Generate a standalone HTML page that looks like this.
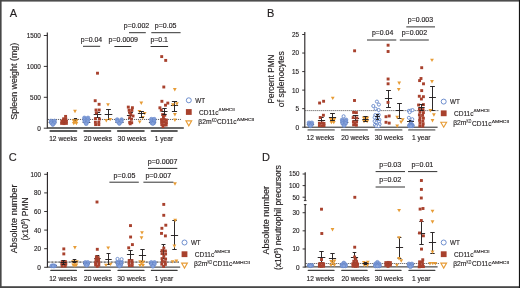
<!DOCTYPE html>
<html><head><meta charset="utf-8"><style>
html,body{margin:0;padding:0;background:#fff;width:520px;height:288px;overflow:hidden}
svg{display:block;font-family:"Liberation Sans", sans-serif;will-change:transform}
</style></head><body>
<svg width="520" height="288" viewBox="0 0 520 288">
<rect width="520" height="288" fill="#fff"/>
<rect x="0" y="0" width="520" height="1.6" fill="#4d4d4d"/>
<rect x="0" y="0" width="1.6" height="288" fill="#474747"/>
<rect x="0" y="286.2" width="520" height="1.8" fill="#474747"/>
<rect x="518.9" y="0" width="1.1" height="288" fill="#151515"/>
<text x="13.40" y="16.90" font-size="11" text-anchor="middle" fill="#231f20" stroke="#231f20" stroke-width="0.15">A</text>
<text x="270.70" y="16.90" font-size="11" text-anchor="middle" fill="#231f20" stroke="#231f20" stroke-width="0.15">B</text>
<text x="12.80" y="160.60" font-size="11" text-anchor="middle" fill="#231f20" stroke="#231f20" stroke-width="0.15">C</text>
<text x="266.00" y="160.50" font-size="11" text-anchor="middle" fill="#231f20" stroke="#231f20" stroke-width="0.15">D</text>
<line x1="47.30" y1="32.60" x2="47.30" y2="128.50" stroke="#231f20" stroke-width="1.1"/>
<line x1="47.30" y1="128.00" x2="183.80" y2="128.00" stroke="#3a3a3a" stroke-width="1.7"/>
<line x1="43.80" y1="128.20" x2="47.30" y2="128.20" stroke="#231f20" stroke-width="0.9"/>
<text x="40.90" y="130.60" font-size="6.8" text-anchor="end" fill="#231f20" stroke="#231f20" stroke-width="0.15" textLength="3.60" lengthAdjust="spacingAndGlyphs">0</text>
<line x1="43.80" y1="97.30" x2="47.30" y2="97.30" stroke="#231f20" stroke-width="0.9"/>
<text x="40.90" y="99.70" font-size="6.8" text-anchor="end" fill="#231f20" stroke="#231f20" stroke-width="0.15" textLength="10.80" lengthAdjust="spacingAndGlyphs">500</text>
<line x1="43.80" y1="66.40" x2="47.30" y2="66.40" stroke="#231f20" stroke-width="0.9"/>
<text x="40.90" y="68.80" font-size="6.8" text-anchor="end" fill="#231f20" stroke="#231f20" stroke-width="0.15" textLength="14.20" lengthAdjust="spacingAndGlyphs">1000</text>
<line x1="43.80" y1="35.50" x2="47.30" y2="35.50" stroke="#231f20" stroke-width="0.9"/>
<text x="40.90" y="37.90" font-size="6.8" text-anchor="end" fill="#231f20" stroke="#231f20" stroke-width="0.15" textLength="14.20" lengthAdjust="spacingAndGlyphs">1500</text>
<line x1="50.40" y1="131.00" x2="76.40" y2="131.00" stroke="#5a5a5a" stroke-width="2.0" stroke-linecap="round"/>
<line x1="84.30" y1="131.00" x2="110.30" y2="131.00" stroke="#5a5a5a" stroke-width="2.0" stroke-linecap="round"/>
<line x1="117.90" y1="131.00" x2="143.80" y2="131.00" stroke="#5a5a5a" stroke-width="2.0" stroke-linecap="round"/>
<line x1="151.60" y1="131.00" x2="176.90" y2="131.00" stroke="#5a5a5a" stroke-width="2.0" stroke-linecap="round"/>
<text x="63.20" y="140.50" font-size="6.9" text-anchor="middle" fill="#231f20" stroke="#231f20" stroke-width="0.15" textLength="28.00" lengthAdjust="spacingAndGlyphs">12 weeks</text>
<text x="98.00" y="140.50" font-size="6.9" text-anchor="middle" fill="#231f20" stroke="#231f20" stroke-width="0.15" textLength="28.00" lengthAdjust="spacingAndGlyphs">20 weeks</text>
<text x="132.00" y="140.50" font-size="6.9" text-anchor="middle" fill="#231f20" stroke="#231f20" stroke-width="0.15" textLength="28.80" lengthAdjust="spacingAndGlyphs">30 weeks</text>
<text x="163.90" y="140.50" font-size="6.9" text-anchor="middle" fill="#231f20" stroke="#231f20" stroke-width="0.15" textLength="18.40" lengthAdjust="spacingAndGlyphs">1 year</text>
<text x="16.70" y="81.20" font-size="8.6" text-anchor="middle" fill="#231f20" stroke="#231f20" stroke-width="0.15" textLength="77.00" lengthAdjust="spacingAndGlyphs" transform="rotate(-90 16.70 81.20)">Spleen weight (mg)</text>
<line x1="47.90" y1="119.45" x2="181.50" y2="119.45" stroke="#231f20" stroke-width="0.9" stroke-dasharray="0.9 1.1"/>
<line x1="52.50" y1="122.50" x2="52.50" y2="123.50" stroke="#231f20" stroke-width="0.95"/>
<line x1="51.00" y1="122.50" x2="54.00" y2="122.50" stroke="#231f20" stroke-width="0.95"/>
<line x1="51.00" y1="123.50" x2="54.00" y2="123.50" stroke="#231f20" stroke-width="0.95"/>
<line x1="48.70" y1="122.50" x2="56.30" y2="122.50" stroke="#231f20" stroke-width="0.95"/>
<line x1="64.50" y1="119.50" x2="64.50" y2="122.50" stroke="#231f20" stroke-width="0.95"/>
<line x1="62.50" y1="119.50" x2="66.50" y2="119.50" stroke="#231f20" stroke-width="0.95"/>
<line x1="62.50" y1="122.50" x2="66.50" y2="122.50" stroke="#231f20" stroke-width="0.95"/>
<line x1="61.50" y1="120.50" x2="67.50" y2="120.50" stroke="#231f20" stroke-width="0.95"/>
<line x1="75.50" y1="118.50" x2="75.50" y2="120.50" stroke="#231f20" stroke-width="0.95"/>
<line x1="73.90" y1="118.50" x2="77.10" y2="118.50" stroke="#231f20" stroke-width="0.95"/>
<line x1="73.90" y1="120.50" x2="77.10" y2="120.50" stroke="#231f20" stroke-width="0.95"/>
<line x1="73.10" y1="119.50" x2="77.90" y2="119.50" stroke="#231f20" stroke-width="0.95"/>
<circle cx="51.05" cy="121.00" r="1.9" fill="#86a2da" stroke="#5f82c8" stroke-width="0.6"/>
<circle cx="54.55" cy="121.00" r="1.9" fill="#86a2da" stroke="#5f82c8" stroke-width="0.6"/>
<circle cx="51.32" cy="122.80" r="1.9" fill="#86a2da" stroke="#5f82c8" stroke-width="0.6"/>
<circle cx="54.28" cy="122.80" r="1.9" fill="#86a2da" stroke="#5f82c8" stroke-width="0.6"/>
<circle cx="52.80" cy="124.50" r="1.9" fill="#86a2da" stroke="#5f82c8" stroke-width="0.6"/>
<rect x="64.15" y="114.95" width="2.9" height="2.9" fill="#a8412d"/>
<rect x="62.15" y="117.35" width="2.9" height="2.9" fill="#a8412d"/>
<rect x="64.35" y="117.55" width="2.9" height="2.9" fill="#a8412d"/>
<rect x="60.35" y="119.55" width="2.9" height="2.9" fill="#a8412d"/>
<rect x="62.95" y="119.55" width="2.9" height="2.9" fill="#a8412d"/>
<rect x="64.95" y="119.75" width="2.9" height="2.9" fill="#a8412d"/>
<rect x="60.15" y="121.95" width="2.9" height="2.9" fill="#a8412d"/>
<rect x="62.55" y="122.15" width="2.9" height="2.9" fill="#a8412d"/>
<rect x="64.95" y="121.95" width="2.9" height="2.9" fill="#a8412d"/>
<path d="M73.10 109.80H76.90L75.00 113.20Z" fill="#e79c36"/>
<path d="M71.70 119.30H75.50L73.60 122.70Z" fill="#e79c36"/>
<path d="M74.70 119.30H78.50L76.60 122.70Z" fill="#e79c36"/>
<path d="M73.10 120.90H76.90L75.00 124.30Z" fill="#e79c36"/>
<path d="M71.90 121.90H75.70L73.80 125.30Z" fill="#e79c36"/>
<path d="M74.50 121.90H78.30L76.40 125.30Z" fill="#e79c36"/>
<line x1="86.50" y1="121.50" x2="86.50" y2="123.50" stroke="#231f20" stroke-width="0.95"/>
<line x1="85.00" y1="121.50" x2="88.00" y2="121.50" stroke="#231f20" stroke-width="0.95"/>
<line x1="85.00" y1="123.50" x2="88.00" y2="123.50" stroke="#231f20" stroke-width="0.95"/>
<line x1="82.70" y1="122.50" x2="90.30" y2="122.50" stroke="#231f20" stroke-width="0.95"/>
<line x1="97.50" y1="112.50" x2="97.50" y2="117.50" stroke="#231f20" stroke-width="0.95"/>
<line x1="94.90" y1="112.50" x2="100.10" y2="112.50" stroke="#231f20" stroke-width="0.95"/>
<line x1="94.90" y1="117.50" x2="100.10" y2="117.50" stroke="#231f20" stroke-width="0.95"/>
<line x1="93.70" y1="114.50" x2="101.30" y2="114.50" stroke="#231f20" stroke-width="0.95"/>
<line x1="108.50" y1="109.50" x2="108.50" y2="119.50" stroke="#231f20" stroke-width="0.95"/>
<line x1="106.10" y1="109.50" x2="110.90" y2="109.50" stroke="#231f20" stroke-width="0.95"/>
<line x1="106.10" y1="119.50" x2="110.90" y2="119.50" stroke="#231f20" stroke-width="0.95"/>
<line x1="104.70" y1="114.50" x2="112.30" y2="114.50" stroke="#231f20" stroke-width="0.95"/>
<circle cx="84.40" cy="117.90" r="1.9" fill="#86a2da" stroke="#5f82c8" stroke-width="0.6"/>
<circle cx="88.00" cy="117.90" r="1.9" fill="#86a2da" stroke="#5f82c8" stroke-width="0.6"/>
<circle cx="84.61" cy="119.70" r="1.9" fill="#86a2da" stroke="#5f82c8" stroke-width="0.6"/>
<circle cx="87.79" cy="119.70" r="1.9" fill="#86a2da" stroke="#5f82c8" stroke-width="0.6"/>
<circle cx="84.82" cy="121.50" r="1.9" fill="#86a2da" stroke="#5f82c8" stroke-width="0.6"/>
<circle cx="87.58" cy="121.50" r="1.9" fill="#86a2da" stroke="#5f82c8" stroke-width="0.6"/>
<circle cx="86.20" cy="123.70" r="1.9" fill="#86a2da" stroke="#5f82c8" stroke-width="0.6"/>
<rect x="96.05" y="71.75" width="2.9" height="2.9" fill="#a8412d"/>
<rect x="93.75" y="99.25" width="2.9" height="2.9" fill="#a8412d"/>
<rect x="97.65" y="102.85" width="2.9" height="2.9" fill="#a8412d"/>
<rect x="94.55" y="108.55" width="2.9" height="2.9" fill="#a8412d"/>
<rect x="97.75" y="108.55" width="2.9" height="2.9" fill="#a8412d"/>
<rect x="94.95" y="111.35" width="2.9" height="2.9" fill="#a8412d"/>
<rect x="93.95" y="117.15" width="2.9" height="2.9" fill="#a8412d"/>
<rect x="97.95" y="117.55" width="2.9" height="2.9" fill="#a8412d"/>
<rect x="93.95" y="120.75" width="2.9" height="2.9" fill="#a8412d"/>
<rect x="97.35" y="120.75" width="2.9" height="2.9" fill="#a8412d"/>
<rect x="94.15" y="123.15" width="2.9" height="2.9" fill="#a8412d"/>
<rect x="97.35" y="123.15" width="2.9" height="2.9" fill="#a8412d"/>
<path d="M106.10 103.20H109.90L108.00 106.60Z" fill="#e79c36"/>
<path d="M104.40 119.00H108.20L106.30 122.40Z" fill="#e79c36"/>
<path d="M108.30 117.90H112.10L110.20 121.30Z" fill="#e79c36"/>
<line x1="119.50" y1="121.50" x2="119.50" y2="123.50" stroke="#231f20" stroke-width="0.95"/>
<line x1="118.00" y1="121.50" x2="121.00" y2="121.50" stroke="#231f20" stroke-width="0.95"/>
<line x1="118.00" y1="123.50" x2="121.00" y2="123.50" stroke="#231f20" stroke-width="0.95"/>
<line x1="115.50" y1="122.50" x2="123.50" y2="122.50" stroke="#231f20" stroke-width="0.95"/>
<line x1="130.50" y1="112.50" x2="130.50" y2="118.50" stroke="#231f20" stroke-width="0.95"/>
<line x1="128.10" y1="112.50" x2="132.90" y2="112.50" stroke="#231f20" stroke-width="0.95"/>
<line x1="128.10" y1="118.50" x2="132.90" y2="118.50" stroke="#231f20" stroke-width="0.95"/>
<line x1="126.90" y1="115.50" x2="134.10" y2="115.50" stroke="#231f20" stroke-width="0.95"/>
<circle cx="117.20" cy="119.60" r="1.9" fill="#86a2da" stroke="#5f82c8" stroke-width="0.6"/>
<circle cx="121.60" cy="119.60" r="1.9" fill="#86a2da" stroke="#5f82c8" stroke-width="0.6"/>
<circle cx="117.52" cy="121.40" r="1.9" fill="#86a2da" stroke="#5f82c8" stroke-width="0.6"/>
<circle cx="121.28" cy="121.40" r="1.9" fill="#86a2da" stroke="#5f82c8" stroke-width="0.6"/>
<circle cx="119.40" cy="123.50" r="1.9" fill="#86a2da" stroke="#5f82c8" stroke-width="0.6"/>
<rect x="126.85" y="105.65" width="2.9" height="2.9" fill="#a8412d"/>
<rect x="130.95" y="106.25" width="2.9" height="2.9" fill="#a8412d"/>
<rect x="127.65" y="108.75" width="2.9" height="2.9" fill="#a8412d"/>
<rect x="130.45" y="108.95" width="2.9" height="2.9" fill="#a8412d"/>
<rect x="128.25" y="111.25" width="2.9" height="2.9" fill="#a8412d"/>
<rect x="129.35" y="112.85" width="2.9" height="2.9" fill="#a8412d"/>
<rect x="131.55" y="114.55" width="2.9" height="2.9" fill="#a8412d"/>
<rect x="128.25" y="116.25" width="2.9" height="2.9" fill="#a8412d"/>
<rect x="129.85" y="117.85" width="2.9" height="2.9" fill="#a8412d"/>
<rect x="128.25" y="120.95" width="2.9" height="2.9" fill="#a8412d"/>
<rect x="130.25" y="121.25" width="2.9" height="2.9" fill="#a8412d"/>
<rect x="128.75" y="122.35" width="2.9" height="2.9" fill="#a8412d"/>
<path d="M139.40 101.50H143.20L141.30 104.90Z" fill="#e79c36"/>
<path d="M137.50 109.90H141.30L139.40 113.30Z" fill="#e79c36"/>
<path d="M142.80 111.90H146.60L144.70 115.30Z" fill="#e79c36"/>
<path d="M140.90 116.00H144.70L142.80 119.40Z" fill="#e79c36"/>
<path d="M137.80 120.40H141.60L139.70 123.80Z" fill="#e79c36"/>
<line x1="141.50" y1="111.50" x2="141.50" y2="117.50" stroke="#231f20" stroke-width="0.95"/>
<line x1="139.10" y1="111.50" x2="143.90" y2="111.50" stroke="#231f20" stroke-width="0.95"/>
<line x1="139.10" y1="117.50" x2="143.90" y2="117.50" stroke="#231f20" stroke-width="0.95"/>
<line x1="137.90" y1="113.50" x2="145.10" y2="113.50" stroke="#231f20" stroke-width="0.95"/>
<line x1="152.50" y1="121.50" x2="152.50" y2="123.50" stroke="#231f20" stroke-width="0.95"/>
<line x1="151.00" y1="121.50" x2="154.00" y2="121.50" stroke="#231f20" stroke-width="0.95"/>
<line x1="151.00" y1="123.50" x2="154.00" y2="123.50" stroke="#231f20" stroke-width="0.95"/>
<line x1="148.90" y1="122.50" x2="156.10" y2="122.50" stroke="#231f20" stroke-width="0.95"/>
<line x1="174.50" y1="101.50" x2="174.50" y2="111.50" stroke="#231f20" stroke-width="0.95"/>
<line x1="171.90" y1="101.50" x2="177.10" y2="101.50" stroke="#231f20" stroke-width="0.95"/>
<line x1="171.90" y1="111.50" x2="177.10" y2="111.50" stroke="#231f20" stroke-width="0.95"/>
<line x1="170.90" y1="105.50" x2="178.10" y2="105.50" stroke="#231f20" stroke-width="0.95"/>
<circle cx="151.40" cy="119.20" r="1.9" fill="#86a2da" stroke="#5f82c8" stroke-width="0.6"/>
<circle cx="154.20" cy="119.20" r="1.9" fill="#86a2da" stroke="#5f82c8" stroke-width="0.6"/>
<circle cx="151.59" cy="121.00" r="1.9" fill="#86a2da" stroke="#5f82c8" stroke-width="0.6"/>
<circle cx="154.01" cy="121.00" r="1.9" fill="#86a2da" stroke="#5f82c8" stroke-width="0.6"/>
<circle cx="151.78" cy="122.80" r="1.9" fill="#86a2da" stroke="#5f82c8" stroke-width="0.6"/>
<circle cx="153.82" cy="122.80" r="1.9" fill="#86a2da" stroke="#5f82c8" stroke-width="0.6"/>
<circle cx="152.80" cy="123.60" r="1.9" fill="#86a2da" stroke="#5f82c8" stroke-width="0.6"/>
<rect x="160.25" y="55.15" width="2.9" height="2.9" fill="#a8412d"/>
<rect x="164.25" y="58.95" width="2.9" height="2.9" fill="#a8412d"/>
<rect x="162.35" y="85.55" width="2.9" height="2.9" fill="#a8412d"/>
<rect x="160.45" y="99.85" width="2.9" height="2.9" fill="#a8412d"/>
<rect x="166.35" y="101.65" width="2.9" height="2.9" fill="#a8412d"/>
<rect x="164.05" y="103.75" width="2.9" height="2.9" fill="#a8412d"/>
<rect x="158.45" y="106.35" width="2.9" height="2.9" fill="#a8412d"/>
<rect x="159.85" y="108.75" width="2.9" height="2.9" fill="#a8412d"/>
<rect x="161.15" y="113.15" width="2.9" height="2.9" fill="#a8412d"/>
<rect x="163.35" y="113.75" width="2.9" height="2.9" fill="#a8412d"/>
<rect x="161.95" y="115.75" width="2.9" height="2.9" fill="#a8412d"/>
<rect x="160.15" y="118.15" width="2.9" height="2.9" fill="#a8412d"/>
<rect x="162.75" y="117.95" width="2.9" height="2.9" fill="#a8412d"/>
<rect x="164.95" y="118.55" width="2.9" height="2.9" fill="#a8412d"/>
<rect x="160.15" y="120.75" width="2.9" height="2.9" fill="#a8412d"/>
<rect x="162.55" y="120.55" width="2.9" height="2.9" fill="#a8412d"/>
<rect x="164.95" y="121.15" width="2.9" height="2.9" fill="#a8412d"/>
<rect x="160.35" y="123.15" width="2.9" height="2.9" fill="#a8412d"/>
<rect x="162.95" y="123.35" width="2.9" height="2.9" fill="#a8412d"/>
<rect x="164.75" y="123.55" width="2.9" height="2.9" fill="#a8412d"/>
<rect x="161.55" y="125.15" width="2.9" height="2.9" fill="#a8412d"/>
<line x1="164.50" y1="108.50" x2="164.50" y2="114.50" stroke="#231f20" stroke-width="0.95"/>
<line x1="162.30" y1="108.50" x2="166.70" y2="108.50" stroke="#231f20" stroke-width="0.95"/>
<line x1="162.30" y1="114.50" x2="166.70" y2="114.50" stroke="#231f20" stroke-width="0.95"/>
<line x1="161.50" y1="111.50" x2="167.50" y2="111.50" stroke="#231f20" stroke-width="0.95"/>
<path d="M172.90 88.00H176.70L174.80 91.40Z" fill="#e79c36"/>
<path d="M171.00 103.20H174.80L172.90 106.60Z" fill="#e79c36"/>
<path d="M175.00 102.30H178.80L176.90 105.70Z" fill="#e79c36"/>
<path d="M173.00 113.00H176.80L174.90 116.40Z" fill="#e79c36"/>
<path d="M173.00 118.50H176.80L174.90 121.90Z" fill="#e79c36"/>
<circle cx="188.80" cy="100.30" r="2.5" fill="white" stroke="#5f82c8" stroke-width="0.9"/>
<text x="195.20" y="102.70" font-size="7.2" text-anchor="start" fill="#231f20" stroke="#231f20" stroke-width="0.15" textLength="9.80" lengthAdjust="spacingAndGlyphs">WT</text>
<rect x="185.90" y="109.10" width="5.8" height="5.8" fill="#a8412d"/>
<text x="199.00" y="114.50" font-size="7.2" text-anchor="start" fill="#231f20" stroke="#231f20" stroke-width="0.15" textLength="19.60" lengthAdjust="spacingAndGlyphs">CD11c</text>
<text x="218.60" y="111.10" font-size="4.3" text-anchor="start" fill="#231f20" stroke="#231f20" textLength="16.10" lengthAdjust="spacingAndGlyphs" stroke-width="0.12">&#916;MHCII</text>
<path d="M185.90 120.90H191.70L188.80 125.90Z" fill="none" stroke="#e79c36" stroke-width="1.1" stroke-linejoin="miter"/>
<text x="198.30" y="123.80" font-size="7.2" text-anchor="start" fill="#231f20" stroke="#231f20" stroke-width="0.15" textLength="13.30" lengthAdjust="spacingAndGlyphs">&#946;2m</text>
<text x="211.70" y="121.50" font-size="4.6" text-anchor="start" fill="#231f20" stroke="#231f20" textLength="4.80" lengthAdjust="spacingAndGlyphs" stroke-width="0.12">KO</text>
<text x="217.00" y="124.20" font-size="7.2" text-anchor="start" fill="#231f20" stroke="#231f20" stroke-width="0.15" textLength="19.60" lengthAdjust="spacingAndGlyphs">CD11c</text>
<text x="236.80" y="121.30" font-size="4.3" text-anchor="start" fill="#231f20" stroke="#231f20" textLength="17.60" lengthAdjust="spacingAndGlyphs" stroke-width="0.12">&#916;MHCII</text>
<line x1="83.00" y1="46.30" x2="100.20" y2="46.30" stroke="#333" stroke-width="1.0"/>
<text x="91.50" y="41.70" font-size="6.7" text-anchor="middle" fill="#231f20" stroke="#231f20" stroke-width="0.15" textLength="21.40" lengthAdjust="spacingAndGlyphs">p=0.04</text>
<line x1="114.40" y1="46.50" x2="131.30" y2="46.50" stroke="#333" stroke-width="1.0"/>
<text x="123.30" y="41.90" font-size="6.7" text-anchor="middle" fill="#231f20" stroke="#231f20" stroke-width="0.15" textLength="29.40" lengthAdjust="spacingAndGlyphs">p=0.0009</text>
<line x1="129.00" y1="32.70" x2="145.80" y2="32.70" stroke="#333" stroke-width="1.0"/>
<text x="136.50" y="28.10" font-size="6.7" text-anchor="middle" fill="#231f20" stroke="#231f20" stroke-width="0.15" textLength="25.40" lengthAdjust="spacingAndGlyphs">p=0.002</text>
<line x1="151.30" y1="32.70" x2="180.60" y2="32.70" stroke="#333" stroke-width="1.0"/>
<text x="165.65" y="28.10" font-size="6.7" text-anchor="middle" fill="#231f20" stroke="#231f20" stroke-width="0.15" textLength="21.70" lengthAdjust="spacingAndGlyphs">p=0.05</text>
<line x1="150.60" y1="46.50" x2="168.10" y2="46.50" stroke="#333" stroke-width="1.0"/>
<text x="159.20" y="41.90" font-size="6.7" text-anchor="middle" fill="#231f20" stroke="#231f20" stroke-width="0.15" textLength="17.60" lengthAdjust="spacingAndGlyphs">p=0.1</text>
<line x1="304.80" y1="32.00" x2="304.80" y2="127.70" stroke="#231f20" stroke-width="1.1"/>
<line x1="304.80" y1="127.20" x2="437.60" y2="127.20" stroke="#222" stroke-width="1.0"/>
<line x1="302.20" y1="127.20" x2="304.80" y2="127.20" stroke="#231f20" stroke-width="0.9"/>
<text x="299.00" y="129.60" font-size="6.8" text-anchor="end" fill="#231f20" stroke="#231f20" stroke-width="0.15" textLength="3.60" lengthAdjust="spacingAndGlyphs">0</text>
<line x1="302.20" y1="108.66" x2="304.80" y2="108.66" stroke="#231f20" stroke-width="0.9"/>
<text x="299.00" y="111.06" font-size="6.8" text-anchor="end" fill="#231f20" stroke="#231f20" stroke-width="0.15" textLength="3.60" lengthAdjust="spacingAndGlyphs">5</text>
<line x1="302.20" y1="90.12" x2="304.80" y2="90.12" stroke="#231f20" stroke-width="0.9"/>
<text x="299.00" y="92.52" font-size="6.8" text-anchor="end" fill="#231f20" stroke="#231f20" stroke-width="0.15" textLength="7.00" lengthAdjust="spacingAndGlyphs">10</text>
<line x1="302.20" y1="71.58" x2="304.80" y2="71.58" stroke="#231f20" stroke-width="0.9"/>
<text x="299.00" y="73.98" font-size="6.8" text-anchor="end" fill="#231f20" stroke="#231f20" stroke-width="0.15" textLength="7.00" lengthAdjust="spacingAndGlyphs">15</text>
<line x1="302.20" y1="53.04" x2="304.80" y2="53.04" stroke="#231f20" stroke-width="0.9"/>
<text x="299.00" y="55.44" font-size="6.8" text-anchor="end" fill="#231f20" stroke="#231f20" stroke-width="0.15" textLength="7.00" lengthAdjust="spacingAndGlyphs">20</text>
<line x1="302.20" y1="34.50" x2="304.80" y2="34.50" stroke="#231f20" stroke-width="0.9"/>
<text x="299.00" y="36.90" font-size="6.8" text-anchor="end" fill="#231f20" stroke="#231f20" stroke-width="0.15" textLength="7.00" lengthAdjust="spacingAndGlyphs">25</text>
<line x1="308.30" y1="129.90" x2="334.00" y2="129.90" stroke="#8a8a8a" stroke-width="1.8" stroke-linecap="round"/>
<line x1="341.80" y1="129.90" x2="367.10" y2="129.90" stroke="#8a8a8a" stroke-width="1.8" stroke-linecap="round"/>
<line x1="375.50" y1="129.90" x2="401.60" y2="129.90" stroke="#8a8a8a" stroke-width="1.8" stroke-linecap="round"/>
<line x1="408.90" y1="129.90" x2="434.60" y2="129.90" stroke="#8a8a8a" stroke-width="1.8" stroke-linecap="round"/>
<text x="320.50" y="139.70" font-size="6.9" text-anchor="middle" fill="#231f20" stroke="#231f20" stroke-width="0.15" textLength="27.80" lengthAdjust="spacingAndGlyphs">12 weeks</text>
<text x="355.30" y="139.70" font-size="6.9" text-anchor="middle" fill="#231f20" stroke="#231f20" stroke-width="0.15" textLength="28.20" lengthAdjust="spacingAndGlyphs">20 weeks</text>
<text x="389.00" y="139.70" font-size="6.9" text-anchor="middle" fill="#231f20" stroke="#231f20" stroke-width="0.15" textLength="28.60" lengthAdjust="spacingAndGlyphs">30 weeks</text>
<text x="421.20" y="139.70" font-size="6.9" text-anchor="middle" fill="#231f20" stroke="#231f20" stroke-width="0.15" textLength="18.60" lengthAdjust="spacingAndGlyphs">1 year</text>
<text x="273.80" y="79.00" font-size="8.2" text-anchor="middle" fill="#231f20" stroke="#231f20" stroke-width="0.15" textLength="48.80" lengthAdjust="spacingAndGlyphs" transform="rotate(-90 273.80 79.00)">Percent PMN</text>
<text x="284.40" y="79.20" font-size="8.2" text-anchor="middle" fill="#231f20" stroke="#231f20" stroke-width="0.15" textLength="56.00" lengthAdjust="spacingAndGlyphs" transform="rotate(-90 284.40 79.20)">of splenocytes</text>
<line x1="305.40" y1="110.60" x2="439.00" y2="110.60" stroke="#231f20" stroke-width="0.9" stroke-dasharray="0.9 1.1"/>
<line x1="310.50" y1="123.50" x2="310.50" y2="125.50" stroke="#231f20" stroke-width="0.95"/>
<line x1="309.00" y1="123.50" x2="312.00" y2="123.50" stroke="#231f20" stroke-width="0.95"/>
<line x1="309.00" y1="125.50" x2="312.00" y2="125.50" stroke="#231f20" stroke-width="0.95"/>
<line x1="306.90" y1="124.50" x2="314.10" y2="124.50" stroke="#231f20" stroke-width="0.95"/>
<line x1="321.50" y1="117.50" x2="321.50" y2="123.50" stroke="#231f20" stroke-width="0.95"/>
<line x1="319.30" y1="117.50" x2="323.70" y2="117.50" stroke="#231f20" stroke-width="0.95"/>
<line x1="319.30" y1="123.50" x2="323.70" y2="123.50" stroke="#231f20" stroke-width="0.95"/>
<line x1="317.90" y1="120.50" x2="325.10" y2="120.50" stroke="#231f20" stroke-width="0.95"/>
<circle cx="309.00" cy="122.80" r="1.9" fill="#86a2da" stroke="#5f82c8" stroke-width="0.6"/>
<circle cx="311.80" cy="122.80" r="1.9" fill="#86a2da" stroke="#5f82c8" stroke-width="0.6"/>
<circle cx="309.23" cy="124.60" r="1.9" fill="#86a2da" stroke="#5f82c8" stroke-width="0.6"/>
<circle cx="311.57" cy="124.60" r="1.9" fill="#86a2da" stroke="#5f82c8" stroke-width="0.6"/>
<circle cx="310.40" cy="125.85" r="1.9" fill="#86a2da" stroke="#5f82c8" stroke-width="0.6"/>
<rect x="318.15" y="101.55" width="2.9" height="2.9" fill="#a8412d"/>
<rect x="322.15" y="99.80" width="2.9" height="2.9" fill="#a8412d"/>
<rect x="321.95" y="113.80" width="2.9" height="2.9" fill="#a8412d"/>
<rect x="318.80" y="116.05" width="2.9" height="2.9" fill="#a8412d"/>
<rect x="317.95" y="121.75" width="2.9" height="2.9" fill="#a8412d"/>
<rect x="320.75" y="121.55" width="2.9" height="2.9" fill="#a8412d"/>
<rect x="322.55" y="121.95" width="2.9" height="2.9" fill="#a8412d"/>
<rect x="317.95" y="124.15" width="2.9" height="2.9" fill="#a8412d"/>
<rect x="320.55" y="124.35" width="2.9" height="2.9" fill="#a8412d"/>
<rect x="322.55" y="124.15" width="2.9" height="2.9" fill="#a8412d"/>
<path d="M330.85 96.70H334.65L332.75 100.10Z" fill="#e79c36"/>
<path d="M328.90 117.70H332.70L330.80 121.10Z" fill="#e79c36"/>
<path d="M332.50 117.70H336.30L334.40 121.10Z" fill="#e79c36"/>
<path d="M330.70 119.30H334.50L332.60 122.70Z" fill="#e79c36"/>
<path d="M329.50 120.90H333.30L331.40 124.30Z" fill="#e79c36"/>
<path d="M331.90 120.90H335.70L333.80 124.30Z" fill="#e79c36"/>
<line x1="332.50" y1="113.50" x2="332.50" y2="120.50" stroke="#231f20" stroke-width="0.95"/>
<line x1="330.10" y1="113.50" x2="334.90" y2="113.50" stroke="#231f20" stroke-width="0.95"/>
<line x1="330.10" y1="120.50" x2="334.90" y2="120.50" stroke="#231f20" stroke-width="0.95"/>
<line x1="328.90" y1="117.50" x2="336.10" y2="117.50" stroke="#231f20" stroke-width="0.95"/>
<line x1="344.50" y1="121.50" x2="344.50" y2="123.50" stroke="#231f20" stroke-width="0.95"/>
<line x1="343.00" y1="121.50" x2="346.00" y2="121.50" stroke="#231f20" stroke-width="0.95"/>
<line x1="343.00" y1="123.50" x2="346.00" y2="123.50" stroke="#231f20" stroke-width="0.95"/>
<line x1="340.70" y1="122.50" x2="348.30" y2="122.50" stroke="#231f20" stroke-width="0.95"/>
<line x1="355.50" y1="115.50" x2="355.50" y2="120.50" stroke="#231f20" stroke-width="0.95"/>
<line x1="352.70" y1="115.50" x2="358.30" y2="115.50" stroke="#231f20" stroke-width="0.95"/>
<line x1="352.70" y1="120.50" x2="358.30" y2="120.50" stroke="#231f20" stroke-width="0.95"/>
<line x1="351.90" y1="118.50" x2="359.10" y2="118.50" stroke="#231f20" stroke-width="0.95"/>
<circle cx="342.20" cy="119.80" r="1.9" fill="#86a2da" stroke="#5f82c8" stroke-width="0.6"/>
<circle cx="346.00" cy="119.80" r="1.9" fill="#86a2da" stroke="#5f82c8" stroke-width="0.6"/>
<circle cx="342.42" cy="121.60" r="1.9" fill="#86a2da" stroke="#5f82c8" stroke-width="0.6"/>
<circle cx="345.78" cy="121.60" r="1.9" fill="#86a2da" stroke="#5f82c8" stroke-width="0.6"/>
<circle cx="342.65" cy="123.40" r="1.9" fill="#86a2da" stroke="#5f82c8" stroke-width="0.6"/>
<circle cx="345.55" cy="123.40" r="1.9" fill="#86a2da" stroke="#5f82c8" stroke-width="0.6"/>
<circle cx="344.10" cy="125.60" r="1.9" fill="#86a2da" stroke="#5f82c8" stroke-width="0.6"/>
<circle cx="343.60" cy="116.25" r="1.55" fill="white" stroke="#5f82c8" stroke-width="0.85"/>
<rect x="353.15" y="49.35" width="2.9" height="2.9" fill="#a8412d"/>
<rect x="353.05" y="99.05" width="2.9" height="2.9" fill="#a8412d"/>
<rect x="352.15" y="110.95" width="2.9" height="2.9" fill="#a8412d"/>
<rect x="354.95" y="111.15" width="2.9" height="2.9" fill="#a8412d"/>
<rect x="351.75" y="116.15" width="2.9" height="2.9" fill="#a8412d"/>
<rect x="355.35" y="116.55" width="2.9" height="2.9" fill="#a8412d"/>
<rect x="351.95" y="120.35" width="2.9" height="2.9" fill="#a8412d"/>
<rect x="355.15" y="120.55" width="2.9" height="2.9" fill="#a8412d"/>
<rect x="353.55" y="121.95" width="2.9" height="2.9" fill="#a8412d"/>
<rect x="352.15" y="123.35" width="2.9" height="2.9" fill="#a8412d"/>
<rect x="354.95" y="123.75" width="2.9" height="2.9" fill="#a8412d"/>
<path d="M361.90 116.50H365.70L363.80 119.90Z" fill="#e79c36"/>
<path d="M365.50 116.50H369.30L367.40 119.90Z" fill="#e79c36"/>
<path d="M363.70 118.30H367.50L365.60 121.70Z" fill="#e79c36"/>
<path d="M362.10 119.90H365.90L364.00 123.30Z" fill="#e79c36"/>
<path d="M365.30 119.90H369.10L367.20 123.30Z" fill="#e79c36"/>
<line x1="365.50" y1="116.50" x2="365.50" y2="121.50" stroke="#231f20" stroke-width="0.95"/>
<line x1="363.30" y1="116.50" x2="367.70" y2="116.50" stroke="#231f20" stroke-width="0.95"/>
<line x1="363.30" y1="121.50" x2="367.70" y2="121.50" stroke="#231f20" stroke-width="0.95"/>
<line x1="362.30" y1="119.50" x2="368.70" y2="119.50" stroke="#231f20" stroke-width="0.95"/>
<line x1="388.50" y1="90.50" x2="388.50" y2="107.50" stroke="#231f20" stroke-width="0.95"/>
<line x1="386.10" y1="90.50" x2="390.90" y2="90.50" stroke="#231f20" stroke-width="0.95"/>
<line x1="386.10" y1="107.50" x2="390.90" y2="107.50" stroke="#231f20" stroke-width="0.95"/>
<line x1="384.90" y1="98.50" x2="392.10" y2="98.50" stroke="#231f20" stroke-width="0.95"/>
<line x1="399.50" y1="103.50" x2="399.50" y2="118.50" stroke="#231f20" stroke-width="0.95"/>
<line x1="397.10" y1="103.50" x2="401.90" y2="103.50" stroke="#231f20" stroke-width="0.95"/>
<line x1="397.10" y1="118.50" x2="401.90" y2="118.50" stroke="#231f20" stroke-width="0.95"/>
<line x1="395.90" y1="110.50" x2="403.10" y2="110.50" stroke="#231f20" stroke-width="0.95"/>
<circle cx="376.90" cy="101.60" r="1.55" fill="white" stroke="#5f82c8" stroke-width="0.85"/>
<circle cx="378.90" cy="104.60" r="1.55" fill="white" stroke="#5f82c8" stroke-width="0.85"/>
<circle cx="373.30" cy="106.00" r="1.55" fill="white" stroke="#5f82c8" stroke-width="0.85"/>
<circle cx="375.60" cy="108.80" r="1.55" fill="white" stroke="#5f82c8" stroke-width="0.85"/>
<circle cx="378.70" cy="110.00" r="1.55" fill="white" stroke="#5f82c8" stroke-width="0.85"/>
<circle cx="375.30" cy="115.00" r="1.55" fill="white" stroke="#5f82c8" stroke-width="0.85"/>
<circle cx="378.70" cy="114.80" r="1.55" fill="white" stroke="#5f82c8" stroke-width="0.85"/>
<circle cx="374.60" cy="117.60" r="1.55" fill="white" stroke="#5f82c8" stroke-width="0.85"/>
<circle cx="377.80" cy="117.40" r="1.55" fill="white" stroke="#5f82c8" stroke-width="0.85"/>
<circle cx="376.40" cy="119.60" r="1.55" fill="white" stroke="#5f82c8" stroke-width="0.85"/>
<circle cx="379.40" cy="119.80" r="1.55" fill="white" stroke="#5f82c8" stroke-width="0.85"/>
<circle cx="374.60" cy="121.20" r="1.55" fill="white" stroke="#5f82c8" stroke-width="0.85"/>
<circle cx="378.80" cy="121.80" r="1.55" fill="white" stroke="#5f82c8" stroke-width="0.85"/>
<circle cx="376.40" cy="122.60" r="1.55" fill="white" stroke="#5f82c8" stroke-width="0.85"/>
<circle cx="375.00" cy="124.80" r="1.55" fill="white" stroke="#5f82c8" stroke-width="0.85"/>
<circle cx="377.40" cy="124.60" r="1.55" fill="white" stroke="#5f82c8" stroke-width="0.85"/>
<circle cx="379.60" cy="124.20" r="1.55" fill="white" stroke="#5f82c8" stroke-width="0.85"/>
<circle cx="376.20" cy="126.00" r="1.55" fill="white" stroke="#5f82c8" stroke-width="0.85"/>
<circle cx="378.60" cy="126.20" r="1.55" fill="white" stroke="#5f82c8" stroke-width="0.85"/>
<line x1="377.50" y1="114.50" x2="377.50" y2="119.50" stroke="#231f20" stroke-width="0.95"/>
<line x1="375.90" y1="114.50" x2="379.10" y2="114.50" stroke="#231f20" stroke-width="0.95"/>
<line x1="375.90" y1="119.50" x2="379.10" y2="119.50" stroke="#231f20" stroke-width="0.95"/>
<line x1="375.10" y1="116.50" x2="379.90" y2="116.50" stroke="#231f20" stroke-width="0.95"/>
<rect x="386.65" y="43.75" width="2.9" height="2.9" fill="#a8412d"/>
<rect x="386.65" y="50.05" width="2.9" height="2.9" fill="#a8412d"/>
<rect x="386.65" y="77.55" width="2.9" height="2.9" fill="#a8412d"/>
<rect x="386.65" y="82.35" width="2.9" height="2.9" fill="#a8412d"/>
<rect x="386.55" y="100.95" width="2.9" height="2.9" fill="#a8412d"/>
<rect x="384.55" y="115.25" width="2.9" height="2.9" fill="#a8412d"/>
<rect x="387.75" y="114.55" width="2.9" height="2.9" fill="#a8412d"/>
<rect x="384.55" y="120.85" width="2.9" height="2.9" fill="#a8412d"/>
<rect x="387.75" y="121.65" width="2.9" height="2.9" fill="#a8412d"/>
<path d="M397.30 81.60H401.10L399.20 85.00Z" fill="#e79c36"/>
<path d="M396.85 87.90H400.65L398.75 91.30Z" fill="#e79c36"/>
<path d="M395.30 115.80H399.10L397.20 119.20Z" fill="#e79c36"/>
<path d="M400.85 118.30H404.65L402.75 121.70Z" fill="#e79c36"/>
<path d="M399.20 120.60H403.00L401.10 124.00Z" fill="#e79c36"/>
<path d="M395.30 124.60H399.10L397.20 128.00Z" fill="#e79c36"/>
<line x1="410.50" y1="120.50" x2="410.50" y2="122.50" stroke="#231f20" stroke-width="0.95"/>
<line x1="409.00" y1="120.50" x2="412.00" y2="120.50" stroke="#231f20" stroke-width="0.95"/>
<line x1="409.00" y1="122.50" x2="412.00" y2="122.50" stroke="#231f20" stroke-width="0.95"/>
<line x1="407.00" y1="121.50" x2="414.00" y2="121.50" stroke="#231f20" stroke-width="0.95"/>
<line x1="432.50" y1="86.50" x2="432.50" y2="110.50" stroke="#231f20" stroke-width="0.95"/>
<line x1="430.10" y1="86.50" x2="434.90" y2="86.50" stroke="#231f20" stroke-width="0.95"/>
<line x1="430.10" y1="110.50" x2="434.90" y2="110.50" stroke="#231f20" stroke-width="0.95"/>
<line x1="429.10" y1="97.50" x2="435.90" y2="97.50" stroke="#231f20" stroke-width="0.95"/>
<circle cx="410.90" cy="123.60" r="1.9" fill="#86a2da" stroke="#5f82c8" stroke-width="0.6"/>
<circle cx="409.50" cy="125.20" r="1.9" fill="#86a2da" stroke="#5f82c8" stroke-width="0.6"/>
<circle cx="412.30" cy="125.20" r="1.9" fill="#86a2da" stroke="#5f82c8" stroke-width="0.6"/>
<circle cx="409.50" cy="125.90" r="1.9" fill="#86a2da" stroke="#5f82c8" stroke-width="0.6"/>
<circle cx="412.30" cy="125.90" r="1.9" fill="#86a2da" stroke="#5f82c8" stroke-width="0.6"/>
<circle cx="410.90" cy="125.90" r="1.9" fill="#86a2da" stroke="#5f82c8" stroke-width="0.6"/>
<circle cx="408.90" cy="110.80" r="1.55" fill="white" stroke="#5f82c8" stroke-width="0.85"/>
<circle cx="410.90" cy="110.60" r="1.55" fill="white" stroke="#5f82c8" stroke-width="0.85"/>
<circle cx="412.60" cy="110.10" r="1.55" fill="white" stroke="#5f82c8" stroke-width="0.85"/>
<circle cx="409.60" cy="112.20" r="1.55" fill="white" stroke="#5f82c8" stroke-width="0.85"/>
<circle cx="408.90" cy="117.80" r="1.55" fill="white" stroke="#5f82c8" stroke-width="0.85"/>
<circle cx="412.30" cy="119.20" r="1.55" fill="white" stroke="#5f82c8" stroke-width="0.85"/>
<rect x="420.25" y="66.25" width="2.9" height="2.9" fill="#a8412d"/>
<rect x="419.55" y="77.05" width="2.9" height="2.9" fill="#a8412d"/>
<rect x="418.15" y="79.15" width="2.9" height="2.9" fill="#a8412d"/>
<rect x="422.05" y="82.35" width="2.9" height="2.9" fill="#a8412d"/>
<rect x="420.25" y="89.15" width="2.9" height="2.9" fill="#a8412d"/>
<rect x="417.85" y="94.80" width="2.9" height="2.9" fill="#a8412d"/>
<rect x="421.95" y="95.25" width="2.9" height="2.9" fill="#a8412d"/>
<rect x="419.95" y="97.55" width="2.9" height="2.9" fill="#a8412d"/>
<rect x="417.15" y="103.55" width="2.9" height="2.9" fill="#a8412d"/>
<rect x="421.95" y="103.15" width="2.9" height="2.9" fill="#a8412d"/>
<rect x="417.95" y="107.95" width="2.9" height="2.9" fill="#a8412d"/>
<rect x="421.55" y="108.15" width="2.9" height="2.9" fill="#a8412d"/>
<rect x="418.55" y="110.55" width="2.9" height="2.9" fill="#a8412d"/>
<rect x="421.95" y="111.15" width="2.9" height="2.9" fill="#a8412d"/>
<rect x="417.95" y="113.35" width="2.9" height="2.9" fill="#a8412d"/>
<rect x="421.15" y="113.95" width="2.9" height="2.9" fill="#a8412d"/>
<rect x="418.55" y="116.15" width="2.9" height="2.9" fill="#a8412d"/>
<rect x="421.95" y="116.75" width="2.9" height="2.9" fill="#a8412d"/>
<rect x="418.15" y="118.95" width="2.9" height="2.9" fill="#a8412d"/>
<rect x="421.35" y="119.55" width="2.9" height="2.9" fill="#a8412d"/>
<rect x="418.55" y="121.75" width="2.9" height="2.9" fill="#a8412d"/>
<rect x="421.75" y="122.35" width="2.9" height="2.9" fill="#a8412d"/>
<rect x="418.35" y="124.55" width="2.9" height="2.9" fill="#a8412d"/>
<rect x="421.35" y="124.75" width="2.9" height="2.9" fill="#a8412d"/>
<line x1="421.50" y1="104.50" x2="421.50" y2="110.50" stroke="#231f20" stroke-width="0.95"/>
<line x1="419.30" y1="104.50" x2="423.70" y2="104.50" stroke="#231f20" stroke-width="0.95"/>
<line x1="419.30" y1="110.50" x2="423.70" y2="110.50" stroke="#231f20" stroke-width="0.95"/>
<line x1="418.30" y1="107.50" x2="424.70" y2="107.50" stroke="#231f20" stroke-width="0.95"/>
<path d="M430.10 58.70H433.90L432.00 62.10Z" fill="#e79c36"/>
<path d="M430.10 80.00H433.90L432.00 83.40Z" fill="#e79c36"/>
<path d="M428.50 109.10H432.30L430.40 112.50Z" fill="#e79c36"/>
<path d="M432.00 113.30H435.80L433.90 116.70Z" fill="#e79c36"/>
<path d="M430.60 119.10H434.40L432.50 122.50Z" fill="#e79c36"/>
<circle cx="443.70" cy="101.60" r="2.5" fill="white" stroke="#5f82c8" stroke-width="0.9"/>
<text x="450.10" y="104.00" font-size="7.2" text-anchor="start" fill="#231f20" stroke="#231f20" stroke-width="0.15" textLength="9.80" lengthAdjust="spacingAndGlyphs">WT</text>
<rect x="440.80" y="110.40" width="5.8" height="5.8" fill="#a8412d"/>
<text x="453.90" y="115.80" font-size="7.2" text-anchor="start" fill="#231f20" stroke="#231f20" stroke-width="0.15" textLength="19.60" lengthAdjust="spacingAndGlyphs">CD11c</text>
<text x="473.50" y="112.40" font-size="4.3" text-anchor="start" fill="#231f20" stroke="#231f20" textLength="16.10" lengthAdjust="spacingAndGlyphs" stroke-width="0.12">&#916;MHCII</text>
<path d="M440.80 122.20H446.60L443.70 127.20Z" fill="none" stroke="#e79c36" stroke-width="1.1" stroke-linejoin="miter"/>
<text x="453.20" y="125.10" font-size="7.2" text-anchor="start" fill="#231f20" stroke="#231f20" stroke-width="0.15" textLength="13.30" lengthAdjust="spacingAndGlyphs">&#946;2m</text>
<text x="466.60" y="122.80" font-size="4.6" text-anchor="start" fill="#231f20" stroke="#231f20" textLength="4.80" lengthAdjust="spacingAndGlyphs" stroke-width="0.12">KO</text>
<text x="471.90" y="125.50" font-size="7.2" text-anchor="start" fill="#231f20" stroke="#231f20" stroke-width="0.15" textLength="19.60" lengthAdjust="spacingAndGlyphs">CD11c</text>
<text x="491.70" y="122.60" font-size="4.3" text-anchor="start" fill="#231f20" stroke="#231f20" textLength="17.60" lengthAdjust="spacingAndGlyphs" stroke-width="0.12">&#916;MHCII</text>
<line x1="367.00" y1="40.00" x2="396.30" y2="40.00" stroke="#333" stroke-width="1.0"/>
<text x="382.65" y="35.40" font-size="6.7" text-anchor="middle" fill="#231f20" stroke="#231f20" stroke-width="0.15" textLength="21.30" lengthAdjust="spacingAndGlyphs">p=0.04</text>
<line x1="399.80" y1="40.00" x2="428.80" y2="40.00" stroke="#333" stroke-width="1.0"/>
<text x="414.40" y="35.40" font-size="6.7" text-anchor="middle" fill="#231f20" stroke="#231f20" stroke-width="0.15" textLength="25.40" lengthAdjust="spacingAndGlyphs">p=0.002</text>
<line x1="406.30" y1="26.90" x2="435.00" y2="26.90" stroke="#333" stroke-width="1.0"/>
<text x="420.40" y="22.30" font-size="6.7" text-anchor="middle" fill="#231f20" stroke="#231f20" stroke-width="0.15" textLength="25.20" lengthAdjust="spacingAndGlyphs">p=0.003</text>
<line x1="47.40" y1="172.00" x2="47.40" y2="267.60" stroke="#231f20" stroke-width="1.1"/>
<line x1="47.40" y1="267.10" x2="180.20" y2="267.10" stroke="#222" stroke-width="1.0"/>
<line x1="44.20" y1="267.30" x2="47.40" y2="267.30" stroke="#231f20" stroke-width="0.9"/>
<text x="40.90" y="269.70" font-size="6.8" text-anchor="end" fill="#231f20" stroke="#231f20" stroke-width="0.15" textLength="3.60" lengthAdjust="spacingAndGlyphs">0</text>
<line x1="44.20" y1="248.70" x2="47.40" y2="248.70" stroke="#231f20" stroke-width="0.9"/>
<text x="40.90" y="251.10" font-size="6.8" text-anchor="end" fill="#231f20" stroke="#231f20" stroke-width="0.15" textLength="7.00" lengthAdjust="spacingAndGlyphs">20</text>
<line x1="44.20" y1="230.10" x2="47.40" y2="230.10" stroke="#231f20" stroke-width="0.9"/>
<text x="40.90" y="232.50" font-size="6.8" text-anchor="end" fill="#231f20" stroke="#231f20" stroke-width="0.15" textLength="7.00" lengthAdjust="spacingAndGlyphs">40</text>
<line x1="44.20" y1="211.50" x2="47.40" y2="211.50" stroke="#231f20" stroke-width="0.9"/>
<text x="40.90" y="213.90" font-size="6.8" text-anchor="end" fill="#231f20" stroke="#231f20" stroke-width="0.15" textLength="7.00" lengthAdjust="spacingAndGlyphs">60</text>
<line x1="44.20" y1="192.90" x2="47.40" y2="192.90" stroke="#231f20" stroke-width="0.9"/>
<text x="40.90" y="195.30" font-size="6.8" text-anchor="end" fill="#231f20" stroke="#231f20" stroke-width="0.15" textLength="7.00" lengthAdjust="spacingAndGlyphs">80</text>
<line x1="44.20" y1="174.30" x2="47.40" y2="174.30" stroke="#231f20" stroke-width="0.9"/>
<text x="40.90" y="176.70" font-size="6.8" text-anchor="end" fill="#231f20" stroke="#231f20" stroke-width="0.15" textLength="10.40" lengthAdjust="spacingAndGlyphs">100</text>
<line x1="50.80" y1="270.45" x2="76.40" y2="270.45" stroke="#3a3a3a" stroke-width="1.2" stroke-linecap="round"/>
<line x1="84.60" y1="270.45" x2="110.30" y2="270.45" stroke="#3a3a3a" stroke-width="1.2" stroke-linecap="round"/>
<line x1="118.00" y1="270.45" x2="144.00" y2="270.45" stroke="#3a3a3a" stroke-width="1.2" stroke-linecap="round"/>
<line x1="151.40" y1="270.45" x2="177.10" y2="270.45" stroke="#3a3a3a" stroke-width="1.2" stroke-linecap="round"/>
<text x="63.20" y="280.70" font-size="6.9" text-anchor="middle" fill="#231f20" stroke="#231f20" stroke-width="0.15" textLength="28.00" lengthAdjust="spacingAndGlyphs">12 weeks</text>
<text x="98.00" y="280.70" font-size="6.9" text-anchor="middle" fill="#231f20" stroke="#231f20" stroke-width="0.15" textLength="28.00" lengthAdjust="spacingAndGlyphs">20 weeks</text>
<text x="131.60" y="280.70" font-size="6.9" text-anchor="middle" fill="#231f20" stroke="#231f20" stroke-width="0.15" textLength="28.60" lengthAdjust="spacingAndGlyphs">30 weeks</text>
<text x="163.90" y="280.70" font-size="6.9" text-anchor="middle" fill="#231f20" stroke="#231f20" stroke-width="0.15" textLength="18.40" lengthAdjust="spacingAndGlyphs">1 year</text>
<text x="17.40" y="218.90" font-size="8.2" text-anchor="middle" fill="#231f20" stroke="#231f20" stroke-width="0.15" textLength="68.60" lengthAdjust="spacingAndGlyphs" transform="rotate(-90 17.40 218.90)">Absolute number</text>
<text x="27.60" y="219.00" font-size="8.2" text-anchor="middle" fill="#231f20" stroke="#231f20" stroke-width="0.15" textLength="43.00" lengthAdjust="spacingAndGlyphs" transform="rotate(-90 27.60 219.00)">(x10<tspan dy="-2.4" font-size="5">6</tspan><tspan dy="2.4">) PMN</tspan></text>
<line x1="48.00" y1="262.10" x2="179.00" y2="262.10" stroke="#5a5a5a" stroke-width="1.7" stroke-dasharray="0.75 0.65"/>
<line x1="53.50" y1="264.50" x2="53.50" y2="266.50" stroke="#231f20" stroke-width="0.95"/>
<line x1="52.00" y1="264.50" x2="55.00" y2="264.50" stroke="#231f20" stroke-width="0.95"/>
<line x1="52.00" y1="266.50" x2="55.00" y2="266.50" stroke="#231f20" stroke-width="0.95"/>
<line x1="50.10" y1="265.50" x2="56.90" y2="265.50" stroke="#231f20" stroke-width="0.95"/>
<circle cx="53.20" cy="265.80" r="1.9" fill="#86a2da" stroke="#5f82c8" stroke-width="0.6"/>
<circle cx="51.70" cy="265.90" r="1.9" fill="#86a2da" stroke="#5f82c8" stroke-width="0.6"/>
<circle cx="54.70" cy="265.90" r="1.9" fill="#86a2da" stroke="#5f82c8" stroke-width="0.6"/>
<circle cx="53.20" cy="265.90" r="1.9" fill="#86a2da" stroke="#5f82c8" stroke-width="0.6"/>
<rect x="62.35" y="247.45" width="2.9" height="2.9" fill="#a8412d"/>
<rect x="62.35" y="252.45" width="2.9" height="2.9" fill="#a8412d"/>
<rect x="60.75" y="260.15" width="2.9" height="2.9" fill="#a8412d"/>
<rect x="63.95" y="260.15" width="2.9" height="2.9" fill="#a8412d"/>
<rect x="60.35" y="262.55" width="2.9" height="2.9" fill="#a8412d"/>
<rect x="62.55" y="262.35" width="2.9" height="2.9" fill="#a8412d"/>
<rect x="64.35" y="262.75" width="2.9" height="2.9" fill="#a8412d"/>
<rect x="60.75" y="264.75" width="2.9" height="2.9" fill="#a8412d"/>
<rect x="63.75" y="264.75" width="2.9" height="2.9" fill="#a8412d"/>
<line x1="63.50" y1="260.50" x2="63.50" y2="264.50" stroke="#231f20" stroke-width="0.95"/>
<line x1="61.70" y1="260.50" x2="65.30" y2="260.50" stroke="#231f20" stroke-width="0.95"/>
<line x1="61.70" y1="264.50" x2="65.30" y2="264.50" stroke="#231f20" stroke-width="0.95"/>
<line x1="60.50" y1="262.50" x2="66.50" y2="262.50" stroke="#231f20" stroke-width="0.95"/>
<path d="M73.00 246.10H76.80L74.90 249.50Z" fill="#e79c36"/>
<path d="M71.10 260.30H74.90L73.00 263.70Z" fill="#e79c36"/>
<path d="M74.90 260.30H78.70L76.80 263.70Z" fill="#e79c36"/>
<path d="M72.90 261.70H76.70L74.80 265.10Z" fill="#e79c36"/>
<path d="M71.30 263.50H75.10L73.20 266.90Z" fill="#e79c36"/>
<path d="M74.50 263.50H78.30L76.40 266.90Z" fill="#e79c36"/>
<path d="M72.90 264.30H76.70L74.80 267.70Z" fill="#e79c36"/>
<line x1="74.50" y1="259.50" x2="74.50" y2="262.50" stroke="#231f20" stroke-width="0.95"/>
<line x1="72.70" y1="259.50" x2="76.30" y2="259.50" stroke="#231f20" stroke-width="0.95"/>
<line x1="72.70" y1="262.50" x2="76.30" y2="262.50" stroke="#231f20" stroke-width="0.95"/>
<line x1="71.50" y1="261.50" x2="77.50" y2="261.50" stroke="#231f20" stroke-width="0.95"/>
<line x1="86.50" y1="263.50" x2="86.50" y2="264.50" stroke="#231f20" stroke-width="0.95"/>
<line x1="85.00" y1="263.50" x2="88.00" y2="263.50" stroke="#231f20" stroke-width="0.95"/>
<line x1="85.00" y1="264.50" x2="88.00" y2="264.50" stroke="#231f20" stroke-width="0.95"/>
<line x1="83.10" y1="263.50" x2="89.90" y2="263.50" stroke="#231f20" stroke-width="0.95"/>
<line x1="97.50" y1="255.50" x2="97.50" y2="261.50" stroke="#231f20" stroke-width="0.95"/>
<line x1="95.70" y1="255.50" x2="99.30" y2="255.50" stroke="#231f20" stroke-width="0.95"/>
<line x1="95.70" y1="261.50" x2="99.30" y2="261.50" stroke="#231f20" stroke-width="0.95"/>
<line x1="94.30" y1="258.50" x2="100.70" y2="258.50" stroke="#231f20" stroke-width="0.95"/>
<line x1="108.50" y1="253.50" x2="108.50" y2="264.50" stroke="#231f20" stroke-width="0.95"/>
<line x1="106.50" y1="253.50" x2="110.50" y2="253.50" stroke="#231f20" stroke-width="0.95"/>
<line x1="106.50" y1="264.50" x2="110.50" y2="264.50" stroke="#231f20" stroke-width="0.95"/>
<line x1="105.30" y1="259.50" x2="111.70" y2="259.50" stroke="#231f20" stroke-width="0.95"/>
<circle cx="85.35" cy="262.40" r="1.9" fill="#86a2da" stroke="#5f82c8" stroke-width="0.6"/>
<circle cx="87.85" cy="262.40" r="1.9" fill="#86a2da" stroke="#5f82c8" stroke-width="0.6"/>
<circle cx="85.56" cy="264.20" r="1.9" fill="#86a2da" stroke="#5f82c8" stroke-width="0.6"/>
<circle cx="87.64" cy="264.20" r="1.9" fill="#86a2da" stroke="#5f82c8" stroke-width="0.6"/>
<circle cx="86.60" cy="265.40" r="1.9" fill="#86a2da" stroke="#5f82c8" stroke-width="0.6"/>
<rect x="95.55" y="200.55" width="2.9" height="2.9" fill="#a8412d"/>
<rect x="95.85" y="247.85" width="2.9" height="2.9" fill="#a8412d"/>
<rect x="94.95" y="255.35" width="2.9" height="2.9" fill="#a8412d"/>
<rect x="96.75" y="256.15" width="2.9" height="2.9" fill="#a8412d"/>
<rect x="94.55" y="258.15" width="2.9" height="2.9" fill="#a8412d"/>
<rect x="97.15" y="258.75" width="2.9" height="2.9" fill="#a8412d"/>
<rect x="94.15" y="261.15" width="2.9" height="2.9" fill="#a8412d"/>
<rect x="97.35" y="261.15" width="2.9" height="2.9" fill="#a8412d"/>
<rect x="94.15" y="263.55" width="2.9" height="2.9" fill="#a8412d"/>
<rect x="97.35" y="263.75" width="2.9" height="2.9" fill="#a8412d"/>
<rect x="95.75" y="264.95" width="2.9" height="2.9" fill="#a8412d"/>
<path d="M106.30 246.40H110.10L108.20 249.80Z" fill="#e79c36"/>
<path d="M104.10 263.70H107.90L106.00 267.10Z" fill="#e79c36"/>
<path d="M108.70 262.70H112.50L110.60 266.10Z" fill="#e79c36"/>
<line x1="119.50" y1="262.50" x2="119.50" y2="264.50" stroke="#231f20" stroke-width="0.95"/>
<line x1="118.00" y1="262.50" x2="121.00" y2="262.50" stroke="#231f20" stroke-width="0.95"/>
<line x1="118.00" y1="264.50" x2="121.00" y2="264.50" stroke="#231f20" stroke-width="0.95"/>
<line x1="115.70" y1="263.50" x2="123.30" y2="263.50" stroke="#231f20" stroke-width="0.95"/>
<line x1="130.50" y1="250.50" x2="130.50" y2="259.50" stroke="#231f20" stroke-width="0.95"/>
<line x1="128.30" y1="250.50" x2="132.70" y2="250.50" stroke="#231f20" stroke-width="0.95"/>
<line x1="128.30" y1="259.50" x2="132.70" y2="259.50" stroke="#231f20" stroke-width="0.95"/>
<line x1="126.90" y1="254.50" x2="134.10" y2="254.50" stroke="#231f20" stroke-width="0.95"/>
<line x1="142.50" y1="249.50" x2="142.50" y2="261.50" stroke="#231f20" stroke-width="0.95"/>
<line x1="140.30" y1="249.50" x2="144.70" y2="249.50" stroke="#231f20" stroke-width="0.95"/>
<line x1="140.30" y1="261.50" x2="144.70" y2="261.50" stroke="#231f20" stroke-width="0.95"/>
<line x1="138.90" y1="255.50" x2="146.10" y2="255.50" stroke="#231f20" stroke-width="0.95"/>
<circle cx="117.70" cy="261.50" r="1.9" fill="#86a2da" stroke="#5f82c8" stroke-width="0.6"/>
<circle cx="121.30" cy="261.50" r="1.9" fill="#86a2da" stroke="#5f82c8" stroke-width="0.6"/>
<circle cx="117.94" cy="263.30" r="1.9" fill="#86a2da" stroke="#5f82c8" stroke-width="0.6"/>
<circle cx="121.06" cy="263.30" r="1.9" fill="#86a2da" stroke="#5f82c8" stroke-width="0.6"/>
<circle cx="118.18" cy="265.10" r="1.9" fill="#86a2da" stroke="#5f82c8" stroke-width="0.6"/>
<circle cx="120.82" cy="265.10" r="1.9" fill="#86a2da" stroke="#5f82c8" stroke-width="0.6"/>
<circle cx="119.50" cy="266.10" r="1.9" fill="#86a2da" stroke="#5f82c8" stroke-width="0.6"/>
<circle cx="117.50" cy="258.90" r="1.55" fill="white" stroke="#5f82c8" stroke-width="0.85"/>
<circle cx="121.60" cy="259.20" r="1.55" fill="white" stroke="#5f82c8" stroke-width="0.85"/>
<rect x="129.05" y="224.15" width="2.9" height="2.9" fill="#a8412d"/>
<rect x="129.15" y="235.55" width="2.9" height="2.9" fill="#a8412d"/>
<rect x="130.95" y="243.15" width="2.9" height="2.9" fill="#a8412d"/>
<rect x="127.25" y="246.35" width="2.9" height="2.9" fill="#a8412d"/>
<rect x="127.75" y="259.15" width="2.9" height="2.9" fill="#a8412d"/>
<rect x="130.55" y="259.15" width="2.9" height="2.9" fill="#a8412d"/>
<rect x="127.55" y="261.75" width="2.9" height="2.9" fill="#a8412d"/>
<rect x="130.75" y="261.75" width="2.9" height="2.9" fill="#a8412d"/>
<rect x="127.95" y="264.15" width="2.9" height="2.9" fill="#a8412d"/>
<rect x="130.75" y="264.15" width="2.9" height="2.9" fill="#a8412d"/>
<path d="M140.10 231.20H143.90L142.00 234.60Z" fill="#e79c36"/>
<path d="M139.60 236.30H143.40L141.50 239.70Z" fill="#e79c36"/>
<path d="M138.30 260.30H142.10L140.20 263.70Z" fill="#e79c36"/>
<path d="M141.30 260.50H145.10L143.20 263.90Z" fill="#e79c36"/>
<path d="M139.70 262.10H143.50L141.60 265.50Z" fill="#e79c36"/>
<path d="M138.10 263.90H141.90L140.00 267.30Z" fill="#e79c36"/>
<path d="M141.10 264.10H144.90L143.00 267.50Z" fill="#e79c36"/>
<line x1="152.50" y1="262.50" x2="152.50" y2="264.50" stroke="#231f20" stroke-width="0.95"/>
<line x1="151.00" y1="262.50" x2="154.00" y2="262.50" stroke="#231f20" stroke-width="0.95"/>
<line x1="151.00" y1="264.50" x2="154.00" y2="264.50" stroke="#231f20" stroke-width="0.95"/>
<line x1="148.90" y1="263.50" x2="156.10" y2="263.50" stroke="#231f20" stroke-width="0.95"/>
<line x1="163.50" y1="244.50" x2="163.50" y2="258.50" stroke="#231f20" stroke-width="0.95"/>
<line x1="161.50" y1="244.50" x2="165.50" y2="244.50" stroke="#231f20" stroke-width="0.95"/>
<line x1="161.50" y1="258.50" x2="165.50" y2="258.50" stroke="#231f20" stroke-width="0.95"/>
<line x1="160.30" y1="251.50" x2="166.70" y2="251.50" stroke="#231f20" stroke-width="0.95"/>
<line x1="174.50" y1="220.50" x2="174.50" y2="249.50" stroke="#231f20" stroke-width="0.95"/>
<line x1="172.30" y1="220.50" x2="176.70" y2="220.50" stroke="#231f20" stroke-width="0.95"/>
<line x1="172.30" y1="249.50" x2="176.70" y2="249.50" stroke="#231f20" stroke-width="0.95"/>
<line x1="170.90" y1="235.50" x2="178.10" y2="235.50" stroke="#231f20" stroke-width="0.95"/>
<circle cx="151.30" cy="262.40" r="1.9" fill="#86a2da" stroke="#5f82c8" stroke-width="0.6"/>
<circle cx="154.50" cy="262.40" r="1.9" fill="#86a2da" stroke="#5f82c8" stroke-width="0.6"/>
<circle cx="151.53" cy="264.20" r="1.9" fill="#86a2da" stroke="#5f82c8" stroke-width="0.6"/>
<circle cx="154.27" cy="264.20" r="1.9" fill="#86a2da" stroke="#5f82c8" stroke-width="0.6"/>
<circle cx="152.90" cy="266.30" r="1.9" fill="#86a2da" stroke="#5f82c8" stroke-width="0.6"/>
<rect x="162.30" y="202.95" width="2.9" height="2.9" fill="#a8412d"/>
<rect x="162.30" y="213.85" width="2.9" height="2.9" fill="#a8412d"/>
<rect x="164.35" y="223.75" width="2.9" height="2.9" fill="#a8412d"/>
<rect x="160.45" y="226.85" width="2.9" height="2.9" fill="#a8412d"/>
<rect x="160.05" y="231.95" width="2.9" height="2.9" fill="#a8412d"/>
<rect x="163.95" y="234.45" width="2.9" height="2.9" fill="#a8412d"/>
<rect x="162.35" y="246.55" width="2.9" height="2.9" fill="#a8412d"/>
<rect x="160.55" y="249.15" width="2.9" height="2.9" fill="#a8412d"/>
<rect x="163.95" y="249.55" width="2.9" height="2.9" fill="#a8412d"/>
<rect x="160.55" y="252.15" width="2.9" height="2.9" fill="#a8412d"/>
<rect x="164.15" y="252.55" width="2.9" height="2.9" fill="#a8412d"/>
<rect x="162.35" y="254.95" width="2.9" height="2.9" fill="#a8412d"/>
<rect x="160.55" y="257.15" width="2.9" height="2.9" fill="#a8412d"/>
<rect x="164.15" y="257.55" width="2.9" height="2.9" fill="#a8412d"/>
<rect x="160.95" y="259.95" width="2.9" height="2.9" fill="#a8412d"/>
<rect x="163.75" y="260.35" width="2.9" height="2.9" fill="#a8412d"/>
<rect x="160.35" y="262.75" width="2.9" height="2.9" fill="#a8412d"/>
<rect x="163.95" y="262.95" width="2.9" height="2.9" fill="#a8412d"/>
<rect x="162.15" y="264.95" width="2.9" height="2.9" fill="#a8412d"/>
<path d="M173.10 182.30H176.90L175.00 185.70Z" fill="#e79c36"/>
<path d="M173.30 218.80H177.10L175.20 222.20Z" fill="#e79c36"/>
<path d="M172.50 244.50H176.30L174.40 247.90Z" fill="#e79c36"/>
<path d="M170.70 260.20H174.50L172.60 263.60Z" fill="#e79c36"/>
<path d="M174.50 259.50H178.30L176.40 262.90Z" fill="#e79c36"/>
<circle cx="184.50" cy="242.50" r="2.5" fill="white" stroke="#5f82c8" stroke-width="0.9"/>
<text x="190.90" y="244.90" font-size="7.2" text-anchor="start" fill="#231f20" stroke="#231f20" stroke-width="0.15" textLength="9.80" lengthAdjust="spacingAndGlyphs">WT</text>
<rect x="181.60" y="251.30" width="5.8" height="5.8" fill="#a8412d"/>
<text x="194.70" y="256.70" font-size="7.2" text-anchor="start" fill="#231f20" stroke="#231f20" stroke-width="0.15" textLength="19.60" lengthAdjust="spacingAndGlyphs">CD11c</text>
<text x="214.30" y="253.30" font-size="4.3" text-anchor="start" fill="#231f20" stroke="#231f20" textLength="16.10" lengthAdjust="spacingAndGlyphs" stroke-width="0.12">&#916;MHCII</text>
<path d="M181.60 263.10H187.40L184.50 268.10Z" fill="none" stroke="#e79c36" stroke-width="1.1" stroke-linejoin="miter"/>
<text x="194.00" y="266.00" font-size="7.2" text-anchor="start" fill="#231f20" stroke="#231f20" stroke-width="0.15" textLength="13.30" lengthAdjust="spacingAndGlyphs">&#946;2m</text>
<text x="207.40" y="263.70" font-size="4.6" text-anchor="start" fill="#231f20" stroke="#231f20" textLength="4.80" lengthAdjust="spacingAndGlyphs" stroke-width="0.12">KO</text>
<text x="212.70" y="266.40" font-size="7.2" text-anchor="start" fill="#231f20" stroke="#231f20" stroke-width="0.15" textLength="19.60" lengthAdjust="spacingAndGlyphs">CD11c</text>
<text x="232.50" y="263.50" font-size="4.3" text-anchor="start" fill="#231f20" stroke="#231f20" textLength="17.60" lengthAdjust="spacingAndGlyphs" stroke-width="0.12">&#916;MHCII</text>
<line x1="148.00" y1="168.40" x2="177.30" y2="168.40" stroke="#333" stroke-width="1.0"/>
<text x="162.65" y="163.80" font-size="6.7" text-anchor="middle" fill="#231f20" stroke="#231f20" stroke-width="0.15" textLength="29.70" lengthAdjust="spacingAndGlyphs">p=0.0007</text>
<line x1="109.40" y1="182.20" x2="138.80" y2="182.20" stroke="#333" stroke-width="1.0"/>
<text x="124.50" y="177.60" font-size="6.7" text-anchor="middle" fill="#231f20" stroke="#231f20" stroke-width="0.15" textLength="21.80" lengthAdjust="spacingAndGlyphs">p=0.05</text>
<line x1="143.40" y1="182.20" x2="173.40" y2="182.20" stroke="#333" stroke-width="1.0"/>
<text x="158.30" y="177.60" font-size="6.7" text-anchor="middle" fill="#231f20" stroke="#231f20" stroke-width="0.15" textLength="25.80" lengthAdjust="spacingAndGlyphs">p=0.007</text>
<line x1="305.20" y1="172.30" x2="305.20" y2="200.60" stroke="#231f20" stroke-width="1.1"/>
<line x1="303.90" y1="200.60" x2="306.50" y2="200.60" stroke="#231f20" stroke-width="0.9"/>
<line x1="303.90" y1="204.60" x2="306.50" y2="204.60" stroke="#231f20" stroke-width="0.9"/>
<line x1="305.20" y1="204.60" x2="305.20" y2="267.40" stroke="#231f20" stroke-width="1.1"/>
<line x1="305.20" y1="266.90" x2="437.60" y2="266.90" stroke="#222" stroke-width="1.0"/>
<line x1="302.60" y1="267.10" x2="305.20" y2="267.10" stroke="#231f20" stroke-width="0.9"/>
<text x="299.50" y="269.50" font-size="6.8" text-anchor="end" fill="#231f20" stroke="#231f20" stroke-width="0.15" textLength="3.60" lengthAdjust="spacingAndGlyphs">0</text>
<line x1="302.60" y1="248.97" x2="305.20" y2="248.97" stroke="#231f20" stroke-width="0.9"/>
<text x="299.50" y="251.37" font-size="6.8" text-anchor="end" fill="#231f20" stroke="#231f20" stroke-width="0.15" textLength="7.00" lengthAdjust="spacingAndGlyphs">10</text>
<line x1="302.60" y1="230.84" x2="305.20" y2="230.84" stroke="#231f20" stroke-width="0.9"/>
<text x="299.50" y="233.24" font-size="6.8" text-anchor="end" fill="#231f20" stroke="#231f20" stroke-width="0.15" textLength="7.00" lengthAdjust="spacingAndGlyphs">20</text>
<line x1="302.60" y1="212.71" x2="305.20" y2="212.71" stroke="#231f20" stroke-width="0.9"/>
<text x="299.50" y="215.11" font-size="6.8" text-anchor="end" fill="#231f20" stroke="#231f20" stroke-width="0.15" textLength="7.00" lengthAdjust="spacingAndGlyphs">30</text>
<line x1="302.60" y1="197.20" x2="305.20" y2="197.20" stroke="#231f20" stroke-width="0.9"/>
<text x="299.50" y="199.60" font-size="6.8" text-anchor="end" fill="#231f20" stroke="#231f20" stroke-width="0.15" textLength="7.00" lengthAdjust="spacingAndGlyphs">50</text>
<line x1="302.60" y1="185.60" x2="305.20" y2="185.60" stroke="#231f20" stroke-width="0.9"/>
<text x="299.50" y="188.00" font-size="6.8" text-anchor="end" fill="#231f20" stroke="#231f20" stroke-width="0.15" textLength="10.40" lengthAdjust="spacingAndGlyphs">100</text>
<line x1="302.60" y1="174.00" x2="305.20" y2="174.00" stroke="#231f20" stroke-width="0.9"/>
<text x="299.50" y="176.40" font-size="6.8" text-anchor="end" fill="#231f20" stroke="#231f20" stroke-width="0.15" textLength="10.40" lengthAdjust="spacingAndGlyphs">150</text>
<line x1="308.30" y1="270.40" x2="334.00" y2="270.40" stroke="#404040" stroke-width="1.3" stroke-linecap="round"/>
<line x1="341.80" y1="270.40" x2="367.10" y2="270.40" stroke="#404040" stroke-width="1.3" stroke-linecap="round"/>
<line x1="375.40" y1="270.40" x2="401.00" y2="270.40" stroke="#404040" stroke-width="1.3" stroke-linecap="round"/>
<line x1="409.00" y1="270.40" x2="434.80" y2="270.40" stroke="#404040" stroke-width="1.3" stroke-linecap="round"/>
<text x="320.50" y="280.80" font-size="6.9" text-anchor="middle" fill="#231f20" stroke="#231f20" stroke-width="0.15" textLength="27.80" lengthAdjust="spacingAndGlyphs">12 weeks</text>
<text x="355.60" y="280.80" font-size="6.9" text-anchor="middle" fill="#231f20" stroke="#231f20" stroke-width="0.15" textLength="28.20" lengthAdjust="spacingAndGlyphs">20 weeks</text>
<text x="389.00" y="280.80" font-size="6.9" text-anchor="middle" fill="#231f20" stroke="#231f20" stroke-width="0.15" textLength="28.60" lengthAdjust="spacingAndGlyphs">30 weeks</text>
<text x="421.20" y="280.80" font-size="6.9" text-anchor="middle" fill="#231f20" stroke="#231f20" stroke-width="0.15" textLength="18.60" lengthAdjust="spacingAndGlyphs">1 year</text>
<text x="269.40" y="220.20" font-size="8.2" text-anchor="middle" fill="#231f20" stroke="#231f20" stroke-width="0.15" textLength="68.60" lengthAdjust="spacingAndGlyphs" transform="rotate(-90 269.40 220.20)">Absolute number</text>
<text x="280.60" y="217.60" font-size="8.2" text-anchor="middle" fill="#231f20" stroke="#231f20" stroke-width="0.15" textLength="105.00" lengthAdjust="spacingAndGlyphs" transform="rotate(-90 280.60 217.60)">(x10<tspan dy="-2.4" font-size="5">6</tspan><tspan dy="2.4">) neutrophil precursors</tspan></text>
<line x1="305.80" y1="263.50" x2="438.80" y2="263.50" stroke="#231f20" stroke-width="0.9" stroke-dasharray="0.9 1.1"/>
<line x1="310.50" y1="264.50" x2="310.50" y2="266.50" stroke="#231f20" stroke-width="0.95"/>
<line x1="309.00" y1="264.50" x2="312.00" y2="264.50" stroke="#231f20" stroke-width="0.95"/>
<line x1="309.00" y1="266.50" x2="312.00" y2="266.50" stroke="#231f20" stroke-width="0.95"/>
<line x1="307.10" y1="265.50" x2="313.90" y2="265.50" stroke="#231f20" stroke-width="0.95"/>
<line x1="321.50" y1="251.50" x2="321.50" y2="262.50" stroke="#231f20" stroke-width="0.95"/>
<line x1="319.30" y1="251.50" x2="323.70" y2="251.50" stroke="#231f20" stroke-width="0.95"/>
<line x1="319.30" y1="262.50" x2="323.70" y2="262.50" stroke="#231f20" stroke-width="0.95"/>
<line x1="317.70" y1="257.50" x2="325.30" y2="257.50" stroke="#231f20" stroke-width="0.95"/>
<line x1="332.50" y1="253.50" x2="332.50" y2="264.50" stroke="#231f20" stroke-width="0.95"/>
<line x1="330.30" y1="253.50" x2="334.70" y2="253.50" stroke="#231f20" stroke-width="0.95"/>
<line x1="330.30" y1="264.50" x2="334.70" y2="264.50" stroke="#231f20" stroke-width="0.95"/>
<line x1="328.90" y1="258.50" x2="336.10" y2="258.50" stroke="#231f20" stroke-width="0.95"/>
<circle cx="309.10" cy="265.30" r="1.9" fill="#86a2da" stroke="#5f82c8" stroke-width="0.6"/>
<circle cx="311.90" cy="265.30" r="1.9" fill="#86a2da" stroke="#5f82c8" stroke-width="0.6"/>
<circle cx="310.50" cy="265.70" r="1.9" fill="#86a2da" stroke="#5f82c8" stroke-width="0.6"/>
<rect x="320.05" y="207.75" width="2.9" height="2.9" fill="#a8412d"/>
<rect x="320.35" y="232.05" width="2.9" height="2.9" fill="#a8412d"/>
<rect x="320.05" y="258.05" width="2.9" height="2.9" fill="#a8412d"/>
<rect x="317.95" y="262.35" width="2.9" height="2.9" fill="#a8412d"/>
<rect x="319.95" y="261.95" width="2.9" height="2.9" fill="#a8412d"/>
<rect x="322.15" y="262.35" width="2.9" height="2.9" fill="#a8412d"/>
<rect x="317.95" y="264.75" width="2.9" height="2.9" fill="#a8412d"/>
<rect x="319.95" y="264.95" width="2.9" height="2.9" fill="#a8412d"/>
<rect x="322.15" y="264.75" width="2.9" height="2.9" fill="#a8412d"/>
<path d="M330.60 228.10H334.40L332.50 231.50Z" fill="#e79c36"/>
<path d="M329.30 259.90H333.10L331.20 263.30Z" fill="#e79c36"/>
<path d="M332.50 259.50H336.30L334.40 262.90Z" fill="#e79c36"/>
<path d="M330.90 261.50H334.70L332.80 264.90Z" fill="#e79c36"/>
<path d="M329.10 263.70H332.90L331.00 267.10Z" fill="#e79c36"/>
<path d="M332.50 263.50H336.30L334.40 266.90Z" fill="#e79c36"/>
<line x1="343.50" y1="263.50" x2="343.50" y2="265.50" stroke="#231f20" stroke-width="0.95"/>
<line x1="342.00" y1="263.50" x2="345.00" y2="263.50" stroke="#231f20" stroke-width="0.95"/>
<line x1="342.00" y1="265.50" x2="345.00" y2="265.50" stroke="#231f20" stroke-width="0.95"/>
<line x1="339.90" y1="264.50" x2="347.10" y2="264.50" stroke="#231f20" stroke-width="0.95"/>
<line x1="354.50" y1="252.50" x2="354.50" y2="262.50" stroke="#231f20" stroke-width="0.95"/>
<line x1="352.70" y1="252.50" x2="356.30" y2="252.50" stroke="#231f20" stroke-width="0.95"/>
<line x1="352.70" y1="262.50" x2="356.30" y2="262.50" stroke="#231f20" stroke-width="0.95"/>
<line x1="350.90" y1="257.50" x2="358.10" y2="257.50" stroke="#231f20" stroke-width="0.95"/>
<circle cx="343.80" cy="263.00" r="1.9" fill="#86a2da" stroke="#5f82c8" stroke-width="0.6"/>
<circle cx="342.10" cy="264.60" r="1.9" fill="#86a2da" stroke="#5f82c8" stroke-width="0.6"/>
<circle cx="345.50" cy="264.60" r="1.9" fill="#86a2da" stroke="#5f82c8" stroke-width="0.6"/>
<circle cx="342.10" cy="265.90" r="1.9" fill="#86a2da" stroke="#5f82c8" stroke-width="0.6"/>
<circle cx="345.50" cy="265.90" r="1.9" fill="#86a2da" stroke="#5f82c8" stroke-width="0.6"/>
<circle cx="343.80" cy="265.90" r="1.9" fill="#86a2da" stroke="#5f82c8" stroke-width="0.6"/>
<rect x="353.35" y="195.85" width="2.9" height="2.9" fill="#a8412d"/>
<rect x="353.25" y="245.75" width="2.9" height="2.9" fill="#a8412d"/>
<rect x="353.15" y="255.55" width="2.9" height="2.9" fill="#a8412d"/>
<rect x="354.35" y="257.95" width="2.9" height="2.9" fill="#a8412d"/>
<rect x="352.35" y="259.75" width="2.9" height="2.9" fill="#a8412d"/>
<rect x="355.15" y="260.15" width="2.9" height="2.9" fill="#a8412d"/>
<rect x="351.35" y="262.35" width="2.9" height="2.9" fill="#a8412d"/>
<rect x="353.95" y="262.15" width="2.9" height="2.9" fill="#a8412d"/>
<rect x="356.15" y="262.55" width="2.9" height="2.9" fill="#a8412d"/>
<rect x="351.55" y="264.75" width="2.9" height="2.9" fill="#a8412d"/>
<rect x="353.95" y="264.95" width="2.9" height="2.9" fill="#a8412d"/>
<rect x="355.95" y="264.75" width="2.9" height="2.9" fill="#a8412d"/>
<path d="M361.90 260.90H365.70L363.80 264.30Z" fill="#e79c36"/>
<path d="M365.90 260.70H369.70L367.80 264.10Z" fill="#e79c36"/>
<path d="M363.90 262.50H367.70L365.80 265.90Z" fill="#e79c36"/>
<path d="M362.50 263.90H366.30L364.40 267.30Z" fill="#e79c36"/>
<path d="M365.50 263.90H369.30L367.40 267.30Z" fill="#e79c36"/>
<line x1="365.50" y1="262.50" x2="365.50" y2="264.50" stroke="#231f20" stroke-width="0.95"/>
<line x1="364.00" y1="262.50" x2="367.00" y2="262.50" stroke="#231f20" stroke-width="0.95"/>
<line x1="364.00" y1="264.50" x2="367.00" y2="264.50" stroke="#231f20" stroke-width="0.95"/>
<line x1="362.70" y1="263.50" x2="368.30" y2="263.50" stroke="#231f20" stroke-width="0.95"/>
<line x1="377.50" y1="263.50" x2="377.50" y2="265.50" stroke="#231f20" stroke-width="0.95"/>
<line x1="376.00" y1="263.50" x2="379.00" y2="263.50" stroke="#231f20" stroke-width="0.95"/>
<line x1="376.00" y1="265.50" x2="379.00" y2="265.50" stroke="#231f20" stroke-width="0.95"/>
<line x1="373.90" y1="264.50" x2="381.10" y2="264.50" stroke="#231f20" stroke-width="0.95"/>
<line x1="388.50" y1="263.50" x2="388.50" y2="265.50" stroke="#231f20" stroke-width="0.95"/>
<line x1="387.00" y1="263.50" x2="390.00" y2="263.50" stroke="#231f20" stroke-width="0.95"/>
<line x1="387.00" y1="265.50" x2="390.00" y2="265.50" stroke="#231f20" stroke-width="0.95"/>
<line x1="385.10" y1="264.50" x2="391.90" y2="264.50" stroke="#231f20" stroke-width="0.95"/>
<line x1="399.50" y1="237.50" x2="399.50" y2="258.50" stroke="#231f20" stroke-width="0.95"/>
<line x1="397.60" y1="237.50" x2="401.40" y2="237.50" stroke="#231f20" stroke-width="0.95"/>
<line x1="397.60" y1="258.50" x2="401.40" y2="258.50" stroke="#231f20" stroke-width="0.95"/>
<line x1="395.90" y1="247.50" x2="403.10" y2="247.50" stroke="#231f20" stroke-width="0.95"/>
<circle cx="377.40" cy="262.30" r="1.9" fill="#86a2da" stroke="#5f82c8" stroke-width="0.6"/>
<circle cx="375.50" cy="263.90" r="1.9" fill="#86a2da" stroke="#5f82c8" stroke-width="0.6"/>
<circle cx="379.30" cy="263.90" r="1.9" fill="#86a2da" stroke="#5f82c8" stroke-width="0.6"/>
<circle cx="375.50" cy="265.50" r="1.9" fill="#86a2da" stroke="#5f82c8" stroke-width="0.6"/>
<circle cx="379.30" cy="265.50" r="1.9" fill="#86a2da" stroke="#5f82c8" stroke-width="0.6"/>
<circle cx="375.50" cy="266.00" r="1.9" fill="#86a2da" stroke="#5f82c8" stroke-width="0.6"/>
<circle cx="379.30" cy="266.00" r="1.9" fill="#86a2da" stroke="#5f82c8" stroke-width="0.6"/>
<circle cx="377.40" cy="266.00" r="1.9" fill="#86a2da" stroke="#5f82c8" stroke-width="0.6"/>
<rect x="384.35" y="261.15" width="2.9" height="2.9" fill="#a8412d"/>
<rect x="386.75" y="260.95" width="2.9" height="2.9" fill="#a8412d"/>
<rect x="388.95" y="261.15" width="2.9" height="2.9" fill="#a8412d"/>
<rect x="384.35" y="263.75" width="2.9" height="2.9" fill="#a8412d"/>
<rect x="386.75" y="263.95" width="2.9" height="2.9" fill="#a8412d"/>
<rect x="388.95" y="263.75" width="2.9" height="2.9" fill="#a8412d"/>
<rect x="386.55" y="264.95" width="2.9" height="2.9" fill="#a8412d"/>
<path d="M397.20 208.90H401.00L399.10 212.30Z" fill="#e79c36"/>
<path d="M397.10 236.20H400.90L399.00 239.60Z" fill="#e79c36"/>
<path d="M397.10 257.05H400.90L399.00 260.45Z" fill="#e79c36"/>
<path d="M399.35 259.30H403.15L401.25 262.70Z" fill="#e79c36"/>
<path d="M395.00 263.70H398.80L396.90 267.10Z" fill="#e79c36"/>
<line x1="410.50" y1="264.50" x2="410.50" y2="265.50" stroke="#231f20" stroke-width="0.95"/>
<line x1="409.00" y1="264.50" x2="412.00" y2="264.50" stroke="#231f20" stroke-width="0.95"/>
<line x1="409.00" y1="265.50" x2="412.00" y2="265.50" stroke="#231f20" stroke-width="0.95"/>
<line x1="406.90" y1="264.50" x2="414.10" y2="264.50" stroke="#231f20" stroke-width="0.95"/>
<line x1="421.50" y1="221.50" x2="421.50" y2="244.50" stroke="#231f20" stroke-width="0.95"/>
<line x1="419.30" y1="221.50" x2="423.70" y2="221.50" stroke="#231f20" stroke-width="0.95"/>
<line x1="419.30" y1="244.50" x2="423.70" y2="244.50" stroke="#231f20" stroke-width="0.95"/>
<line x1="417.90" y1="233.50" x2="425.10" y2="233.50" stroke="#231f20" stroke-width="0.95"/>
<line x1="432.50" y1="232.50" x2="432.50" y2="253.50" stroke="#231f20" stroke-width="0.95"/>
<line x1="430.30" y1="232.50" x2="434.70" y2="232.50" stroke="#231f20" stroke-width="0.95"/>
<line x1="430.30" y1="253.50" x2="434.70" y2="253.50" stroke="#231f20" stroke-width="0.95"/>
<line x1="428.90" y1="242.50" x2="436.10" y2="242.50" stroke="#231f20" stroke-width="0.95"/>
<circle cx="408.95" cy="263.90" r="1.9" fill="#86a2da" stroke="#5f82c8" stroke-width="0.6"/>
<circle cx="411.85" cy="263.90" r="1.9" fill="#86a2da" stroke="#5f82c8" stroke-width="0.6"/>
<circle cx="409.20" cy="265.70" r="1.9" fill="#86a2da" stroke="#5f82c8" stroke-width="0.6"/>
<circle cx="411.60" cy="265.70" r="1.9" fill="#86a2da" stroke="#5f82c8" stroke-width="0.6"/>
<circle cx="410.40" cy="266.70" r="1.9" fill="#86a2da" stroke="#5f82c8" stroke-width="0.6"/>
<rect x="419.95" y="179.05" width="2.9" height="2.9" fill="#a8412d"/>
<rect x="419.95" y="187.95" width="2.9" height="2.9" fill="#a8412d"/>
<rect x="419.85" y="196.55" width="2.9" height="2.9" fill="#a8412d"/>
<rect x="418.65" y="207.65" width="2.9" height="2.9" fill="#a8412d"/>
<rect x="421.55" y="207.05" width="2.9" height="2.9" fill="#a8412d"/>
<rect x="419.85" y="219.05" width="2.9" height="2.9" fill="#a8412d"/>
<rect x="418.05" y="231.55" width="2.9" height="2.9" fill="#a8412d"/>
<rect x="421.95" y="234.35" width="2.9" height="2.9" fill="#a8412d"/>
<rect x="420.05" y="247.65" width="2.9" height="2.9" fill="#a8412d"/>
<rect x="421.30" y="258.30" width="2.9" height="2.9" fill="#a8412d"/>
<rect x="418.15" y="260.35" width="2.9" height="2.9" fill="#a8412d"/>
<rect x="420.95" y="260.55" width="2.9" height="2.9" fill="#a8412d"/>
<rect x="418.15" y="262.95" width="2.9" height="2.9" fill="#a8412d"/>
<rect x="421.15" y="263.15" width="2.9" height="2.9" fill="#a8412d"/>
<rect x="419.55" y="265.15" width="2.9" height="2.9" fill="#a8412d"/>
<rect x="421.95" y="265.15" width="2.9" height="2.9" fill="#a8412d"/>
<rect x="417.75" y="265.35" width="2.9" height="2.9" fill="#a8412d"/>
<path d="M430.60 209.70H434.40L432.50 213.10Z" fill="#e79c36"/>
<path d="M430.60 220.30H434.40L432.50 223.70Z" fill="#e79c36"/>
<path d="M430.60 250.55H434.40L432.50 253.95Z" fill="#e79c36"/>
<path d="M428.10 262.10H431.90L430.00 265.50Z" fill="#e79c36"/>
<path d="M430.90 261.90H434.70L432.80 265.30Z" fill="#e79c36"/>
<path d="M433.50 262.10H437.30L435.40 265.50Z" fill="#e79c36"/>
<circle cx="443.70" cy="242.50" r="2.5" fill="white" stroke="#5f82c8" stroke-width="0.9"/>
<text x="450.10" y="244.90" font-size="7.2" text-anchor="start" fill="#231f20" stroke="#231f20" stroke-width="0.15" textLength="9.80" lengthAdjust="spacingAndGlyphs">WT</text>
<rect x="440.80" y="251.30" width="5.8" height="5.8" fill="#a8412d"/>
<text x="453.90" y="256.70" font-size="7.2" text-anchor="start" fill="#231f20" stroke="#231f20" stroke-width="0.15" textLength="19.60" lengthAdjust="spacingAndGlyphs">CD11c</text>
<text x="473.50" y="253.30" font-size="4.3" text-anchor="start" fill="#231f20" stroke="#231f20" textLength="16.10" lengthAdjust="spacingAndGlyphs" stroke-width="0.12">&#916;MHCII</text>
<path d="M440.80 263.10H446.60L443.70 268.10Z" fill="none" stroke="#e79c36" stroke-width="1.1" stroke-linejoin="miter"/>
<text x="453.20" y="266.00" font-size="7.2" text-anchor="start" fill="#231f20" stroke="#231f20" stroke-width="0.15" textLength="13.30" lengthAdjust="spacingAndGlyphs">&#946;2m</text>
<text x="466.60" y="263.70" font-size="4.6" text-anchor="start" fill="#231f20" stroke="#231f20" textLength="4.80" lengthAdjust="spacingAndGlyphs" stroke-width="0.12">KO</text>
<text x="471.90" y="266.40" font-size="7.2" text-anchor="start" fill="#231f20" stroke="#231f20" stroke-width="0.15" textLength="19.60" lengthAdjust="spacingAndGlyphs">CD11c</text>
<text x="491.70" y="263.50" font-size="4.3" text-anchor="start" fill="#231f20" stroke="#231f20" textLength="17.60" lengthAdjust="spacingAndGlyphs" stroke-width="0.12">&#916;MHCII</text>
<line x1="375.60" y1="171.60" x2="405.00" y2="171.60" stroke="#333" stroke-width="1.0"/>
<text x="390.25" y="167.00" font-size="6.7" text-anchor="middle" fill="#231f20" stroke="#231f20" stroke-width="0.15" textLength="21.90" lengthAdjust="spacingAndGlyphs">p=0.03</text>
<line x1="408.00" y1="171.60" x2="437.30" y2="171.60" stroke="#333" stroke-width="1.0"/>
<text x="422.35" y="167.00" font-size="6.7" text-anchor="middle" fill="#231f20" stroke="#231f20" stroke-width="0.15" textLength="21.90" lengthAdjust="spacingAndGlyphs">p=0.01</text>
<line x1="375.60" y1="187.00" x2="405.00" y2="187.00" stroke="#333" stroke-width="1.0"/>
<text x="390.25" y="182.40" font-size="6.7" text-anchor="middle" fill="#231f20" stroke="#231f20" stroke-width="0.15" textLength="21.90" lengthAdjust="spacingAndGlyphs">p=0.02</text>
</svg>
</body></html>
